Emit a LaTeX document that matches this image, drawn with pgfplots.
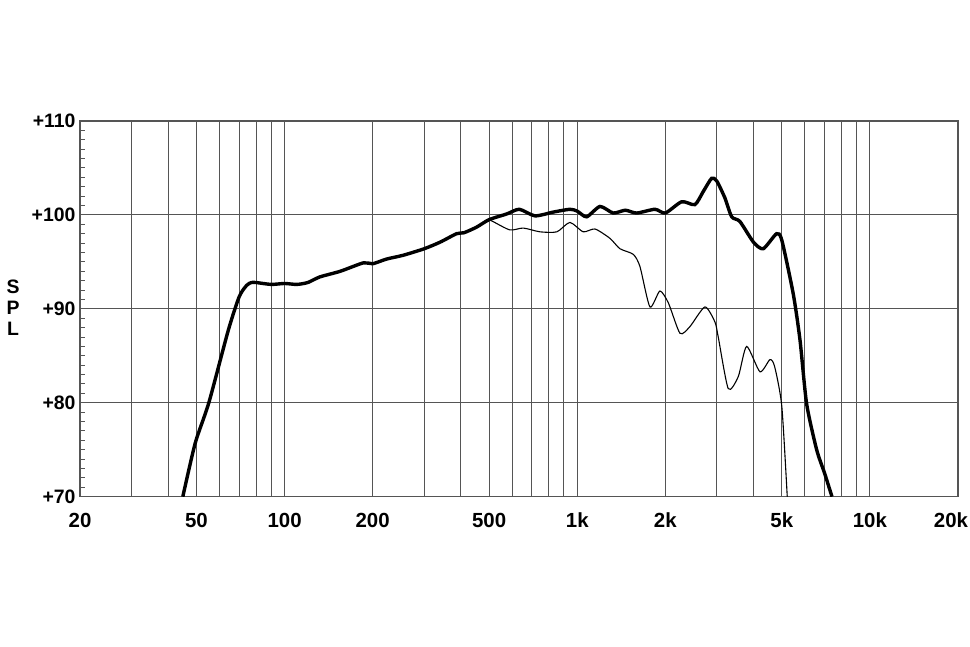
\documentclass[border=0pt]{standalone}
\usepackage{fontspec}
\setmainfont{Liberation Sans}
\usepackage{pgfplots}
\pgfplotsset{compat=1.18}
\definecolor{gridc}{RGB}{85,85,85}
\begin{document}
\begin{tikzpicture}[x=1bp,y=1bp]
\useasboundingbox (0,0) rectangle (970,647);
\begin{axis}[
  at={(80bp,150.3bp)}, anchor=south west,
  scale only axis, width=878bp, height=375.7bp,
  xmode=log, log basis x=10,
  xmin=20, xmax=20000, ymin=70, ymax=110,
  xtick={20,50,100,200,500,1000,2000,5000,10000,20000},
  xticklabels={20,50,100,200,500,1k,2k,5k,10k,{\hspace*{-14bp}20k}},
  minor xtick={30,40,60,70,80,90,300,400,600,700,800,900,3000,4000,6000,7000,8000,9000},
  ytick={70,80,90,100,110},
  yticklabels={+70,+80,+90,+100,+110},
  minor ytick={71,72,73,74,75,76,77,78,79,81,82,83,84,85,86,87,88,89,91,92,93,94,95,96,97,98,99,101,102,103,104,105,106,107,108,109},
  xmajorgrids, xminorgrids, ymajorgrids,
  grid style={gridc, line width=1bp},
  minor grid style={gridc, line width=1bp},
  axis line style={gridc, line width=1.2bp},
  x tick style={draw=none}, minor x tick style={draw=none},
  ytick pos=left, tick align=inside,
  major tick length=0pt, minor tick length=5bp,
  minor y tick style={gridc, line width=1bp},
  /pgf/number format/assume math mode=true,
  yticklabel style={font=\fontsize{19.5}{22}\selectfont\bfseries, xshift=-1bp},
  xticklabel style={font=\fontsize{20.5}{23}\selectfont\bfseries, anchor=base, yshift=-31.3bp},
  clip=true,
]
\addplot[black, line width=3.4bp, smooth, tension=0.4] coordinates {
(44.9,70) (49.5,75.7) (55.1,80) (64.2,87.7) (70,91.3) (74.2,92.5) (77,92.8) (80,92.8) (90,92.6) (100,92.7) (110,92.6) (120,92.8) (132,93.4) (155,94.0) (186,94.9) (200,94.8) (223,95.3) (254,95.7) (300,96.4) (340,97.1) (387,98.0) (410,98.1) (453,98.7) (500,99.5) (574,100.1) (634,100.6) (717,99.9) (828,100.3) (944,100.6) (1000,100.4) (1077,99.8) (1196,100.9) (1327,100.2) (1460,100.5) (1596,100.2) (1843,100.6) (2000,100.2) (2274,101.4) (2524,101.1) (2696,102.5) (2879,103.9) (2998,103.6) (3196,101.8) (3370,99.8) (3596,99.3) (4000,97.1) (4321,96.4) (4798,98.0) (5000,97.3) (5470,91.6) (5768,86.7) (6077,79.9) (6577,75.0) (7000,72.5) (7420,70)
};
\addplot[black, line width=1.1bp, smooth, tension=0.4] coordinates {
(500,99.5) (515,99.3) (589,98.4) (654,98.6) (746,98.2) (852,98.2) (944,99.2) (1048,98.2) (1150,98.5) (1294,97.5) (1399,96.4) (1554,95.8) (1638,94.5) (1772,90.2) (1916,91.9) (2050,90.6) (2244,87.4) (2425,88.1) (2730,90.2) (2954,88.6) (3032,87.0) (3281,81.5) (3551,82.8) (3792,86.0) (4211,83.3) (4555,84.6) (4730,83.8) (5000,79.6) (5218,70)
};
\end{axis}
\node[align=center, font=\fontsize{19.5}{21}\selectfont\bfseries] at (13bp,339bp) {S\\P\\L};
\end{tikzpicture}
\end{document}
